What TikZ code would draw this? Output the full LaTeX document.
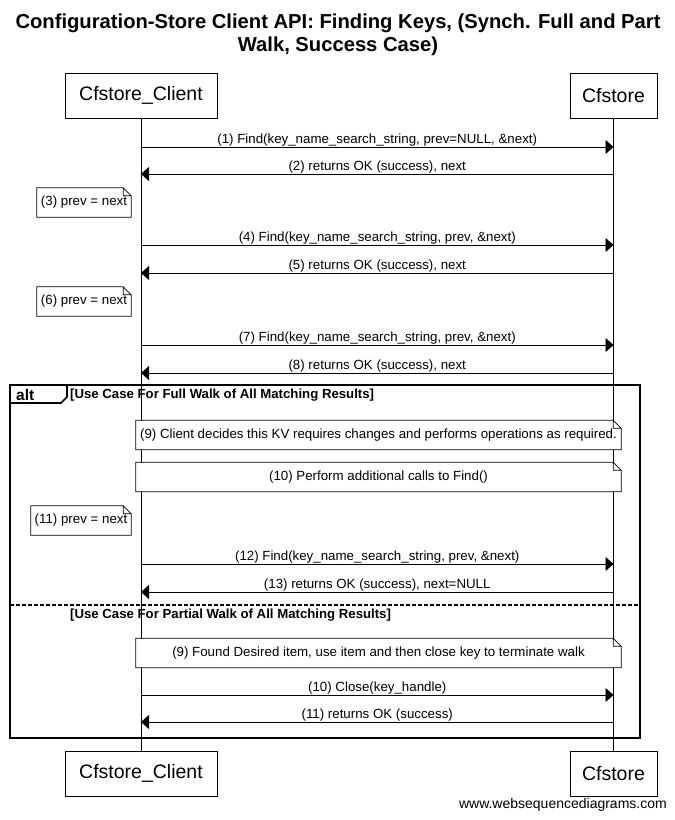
\documentclass[tikz,border=0pt]{standalone}
\usepackage{fontspec}
\setmainfont{Liberation Sans}
\usetikzlibrary{arrows.meta,positioning}
\tikzstyle{actor}=[rectangle, draw=black, fill=white, minimum height=45pt,
        text centered, font=\fontsize{19.5}{22}\selectfont]
\tikzstyle{note}=[rectangle, fill=white, minimum height=29pt, inner sep=3pt,
        font=\fontsize{13.3}{15}\selectfont]
\tikzstyle{notefold}=[draw=black, line width=0.8pt]
\tikzstyle{msg}=[line width=0.8pt, -{Triangle[length=8pt,width=14pt]}]
\tikzstyle{msglabel}=[above, inner sep=0.3pt, font=\fontsize{13.3}{15}\selectfont]
\tikzstyle{guard}=[anchor=west, inner sep=0pt, font=\bfseries\fontsize{13.2}{15}\selectfont]
\tikzstyle{frame}=[draw=black, line width=1.6pt]
\newcommand{\dognote}[1]{%
    \draw[notefold] (#1.south west) -- (#1.north west) -- ([xshift=-8pt]#1.north east)
        -- ([yshift=-8pt]#1.north east) -- (#1.south east) -- cycle
        ([xshift=-8pt]#1.north east) |- ([yshift=-8pt]#1.north east);}

\begin{document}
\begin{tikzpicture}[x=1pt, y=-1pt]
    \useasboundingbox[fill=white] (0,0) rectangle (675,820);

    \node (Title) [align=center, font=\bfseries\fontsize{20.2}{23}\selectfont] at (338,35)
        {Configuration-Store Client API: Finding Keys, (Synch. Full and Part\\Walk, Success Case)};

    % participants
    \node (Client) [actor, minimum width=152pt] at (141,95.5) {Cfstore\_Client};
    \node (Store) [actor, minimum width=87pt] at (613.5,95.5) {Cfstore};
    \node (ClientEnd) [actor, minimum width=152pt] at (141,773.5) {Cfstore\_Client};
    \node (StoreEnd) [actor, minimum width=87pt] at (613.5,773.5) {Cfstore};

    \draw[line width=0.8pt] (Client.south) -- (ClientEnd.north);
    \draw[line width=0.8pt] (Store.south) -- (StoreEnd.north);

    % alt frame
    \draw[frame] (10,385) rectangle (640,738);
    \draw[frame, fill=white] (10,385) -- (67,385) -- (67,397) -- (61,403) -- (10,403) -- cycle;
    \node (Alt) [anchor=west, inner sep=0pt, font=\bfseries\fontsize{15.5}{17}\selectfont] at (16,395) {alt};
    \node (GuardFull) [guard] at (70,395) {[Use Case For Full Walk of All Matching Results]};
    \draw[line width=1.2pt, dash pattern=on 4pt off 2pt] (10,605) -- (640,605);
    \node (GuardPart) [guard] at (70,615) {[Use Case For Partial Walk of All Matching Results]};

    % notes
    \node (Note3) [note, minimum width=94pt] at (84,202.5) {(3) prev = next};
    \dognote{Note3}
    \node (Note6) [note, minimum width=94pt] at (84,301.5) {(6) prev = next};
    \dognote{Note6}
    \node (Note9) [note, minimum width=485pt] at (378.5,435)
        {(9) Client decides this KV requires changes and performs operations as required.};
    \dognote{Note9}
    \node (Note10) [note, minimum width=485pt] at (378.5,477) {(10) Perform additional calls to Find()};
    \dognote{Note10}
    \node (Note11) [note, minimum width=100pt] at (81,520.5) {(11) prev = next};
    \dognote{Note11}
    \node (NoteWalk) [note, minimum width=485pt] at (378.5,653)
        {(9) Found Desired item, use item and then close key to terminate walk};
    \dognote{NoteWalk}

    % messages
    \coordinate (c1) at (141,147);   \coordinate (s1) at (613.5,147);
    \coordinate (c2) at (141,174);   \coordinate (s2) at (613.5,174);
    \coordinate (c4) at (141,245);   \coordinate (s4) at (613.5,245);
    \coordinate (c5) at (141,273);   \coordinate (s5) at (613.5,273);
    \coordinate (c7) at (141,345);   \coordinate (s7) at (613.5,345);
    \coordinate (c8) at (141,373);   \coordinate (s8) at (613.5,373);
    \coordinate (c12) at (141,564);  \coordinate (s12) at (613.5,564);
    \coordinate (c13) at (141,592);  \coordinate (s13) at (613.5,592);
    \coordinate (c14) at (141,695);  \coordinate (s14) at (613.5,695);
    \coordinate (c15) at (141,722);  \coordinate (s15) at (613.5,722);

    \draw[msg] (c1) -- (s1) node[midway,msglabel] {(1) Find(key\_name\_search\_string, prev=NULL, \&next)};
    \draw[msg] (s2) -- (c2) node[midway,msglabel] {(2) returns OK (success), next};
    \draw[msg] (c4) -- (s4) node[midway,msglabel] {(4) Find(key\_name\_search\_string, prev, \&next)};
    \draw[msg] (s5) -- (c5) node[midway,msglabel] {(5) returns OK (success), next};
    \draw[msg] (c7) -- (s7) node[midway,msglabel] {(7) Find(key\_name\_search\_string, prev, \&next)};
    \draw[msg] (s8) -- (c8) node[midway,msglabel] {(8) returns OK (success), next};
    \draw[msg] (c12) -- (s12) node[midway,msglabel] {(12) Find(key\_name\_search\_string, prev, \&next)};
    \draw[msg] (s13) -- (c13) node[midway,msglabel] {(13) returns OK (success), next=NULL};
    \draw[msg] (c14) -- (s14) node[midway,msglabel] {(10) Close(key\_handle)};
    \draw[msg] (s15) -- (c15) node[midway,msglabel] {(11) returns OK (success)};

    \node (Site) [anchor=east, inner sep=0pt, font=\fontsize{14}{16}\selectfont] at (667,805) {www.websequencediagrams.com};
\end{tikzpicture}
\end{document}
